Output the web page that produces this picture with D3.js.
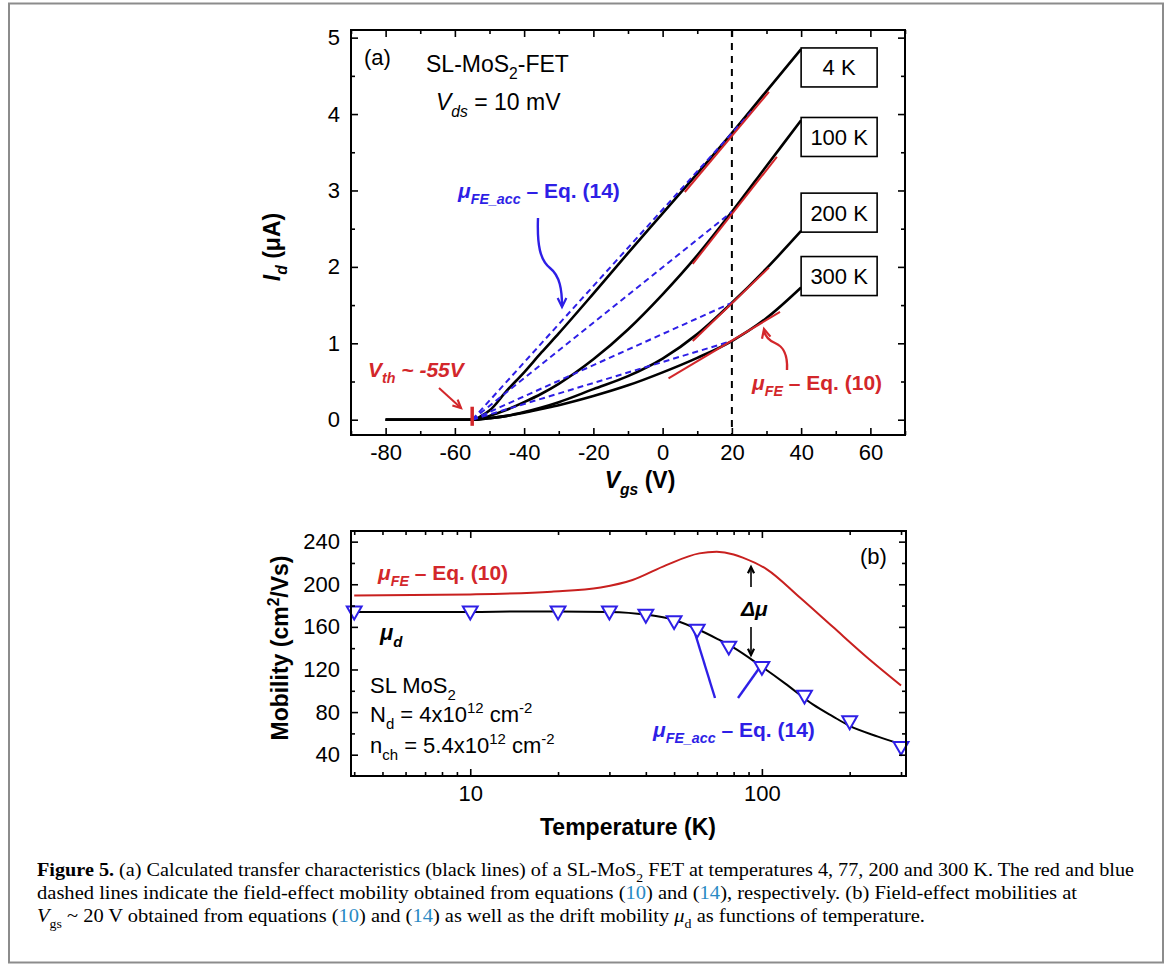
<!DOCTYPE html>
<html>
<head>
<meta charset="utf-8">
<script src="https://cdn.jsdelivr.net/npm/d3@7"></script>
<style>
body{margin:0;background:#fff;}
svg{display:block;font-family:"Liberation Sans",Arial,sans-serif;}
</style>
</head>
<body>
<svg width="1171" height="965"></svg>
<script>
// ---- panel (a) : transfer characteristics ----
var vgs    = [-80, -55, -52, -50, -45, -40, -35, -30, -20, -10, 0, 10, 20, 30, 40];
var id4K   = [0, 0, 0.06, 0.12, 0.38, 0.62, 0.88, 1.13, 1.65, 2.18, 2.70, 3.22, 3.75, 4.30, 4.85];
var id100K = [0, 0, 0.02, 0.05, 0.13, 0.23, 0.34, 0.47, 0.79, 1.18, 1.64, 2.15, 2.72, 3.32, 3.92];
var id200K = [0, 0, 0.01, 0.02, 0.05, 0.10, 0.16, 0.23, 0.40, 0.57, 0.80, 1.12, 1.53, 1.98, 2.47];
var id300K = [0, 0, 0.01, 0.02, 0.05, 0.09, 0.14, 0.19, 0.31, 0.45, 0.62, 0.81, 1.03, 1.33, 1.73];
var tempLabels = ["4 K", "100 K", "200 K", "300 K"];
var labelCenterI = [4.61, 3.70, 2.71, 1.88];
// red tangents (eq. 10): [v0, i0, v1, i1]
var tangents = [[6.4, 2.98, 30.7, 4.29], [8.7, 2.04, 33, 3.44], [8.7, 1.03, 30.7, 1.99], [1.7, 0.54, 33.9, 1.41]];
// blue dashed chords (eq. 14) from Vth
var vth = -55;
var chordEnds = [[26, 4.05], [20, 2.72], [20, 1.53], [20, 1.03]];
var vRef = 20;
var xTicksA = [-80, -60, -40, -20, 0, 20, 40, 60];
var yTicksA = [0, 1, 2, 3, 4, 5];

// ---- panel (b) : mobility vs temperature ----
var tFit  = [4, 6, 10, 15, 20, 30, 40, 50, 60, 70, 80, 100, 120, 150, 175, 200, 250, 300];
var muD   = [174, 174, 174, 174.5, 174.5, 174, 171.5, 166.5, 158, 149, 140.5, 122.5, 107, 87, 76, 67, 57, 50];
var tFE   = [4, 10, 19, 28, 36, 47, 61, 70, 80, 86, 104, 135, 175, 228, 300];
var muFE  = [189.5, 190.5, 193, 197, 204, 218, 229, 230.5, 228, 225, 214, 187.5, 160, 132, 105];
var tAcc  = [4, 10, 20, 30, 40, 50, 60, 77, 100, 140, 200, 300];
var muAcc = [175, 175, 175, 175, 172, 166, 158, 142, 123, 96, 72, 48];
var yTicksB = [40, 80, 120, 160, 200, 240];

var RED = "#d3272b", BLUE = "#2e1fe6";
var svg = d3.select("svg");

// outer border
svg.append("rect").attr("x", 9).attr("y", 3.5).attr("width", 1154).attr("height", 959)
   .attr("fill", "none").attr("stroke", "#8c8c8c").attr("stroke-width", 2);

function rich(sel, x, y, parts, size, anchor) {
  var t = sel.append("text").attr("x", x).attr("y", y).attr("font-size", size)
             .attr("text-anchor", anchor || "start");
  var shift = 0;
  parts.forEach(function(p) {
    var s = t.append("tspan").text(p.t);
    var target = p.sub ? size * 0.3 : (p.sup ? -size * 0.4 : 0);
    if (target !== shift) { s.attr("dy", target - shift); shift = target; }
    if (p.sub || p.sup) s.attr("font-size", size * 0.68);
    if (p.it) s.attr("font-style", "italic");
    if (p.b) s.attr("font-weight", "bold");
    if (p.fill) s.attr("fill", p.fill);
  });
  return t;
}

function head(g, x, y, ang, color, len) {
  // chevron arrow head, ang = direction of travel (radians)
  var a1 = ang + Math.PI - 0.45, a2 = ang + Math.PI + 0.45;
  g.append("path")
   .attr("d", "M" + (x + len * Math.cos(a1)) + "," + (y + len * Math.sin(a1)) + "L" + x + "," + y +
              "L" + (x + len * Math.cos(a2)) + "," + (y + len * Math.sin(a2)))
   .attr("fill", "none").attr("stroke", color).attr("stroke-width", 2.2);
}

function frameTicks(g, x, y, xMaj, xMin, yMaj, yMin, xFmt, yFmt) {
  var W = x.range()[1], H = y.range()[0];
  g.append("g").attr("transform", "translate(0," + H + ")")
   .call(d3.axisBottom(x).tickValues(xMin).tickSize(-4).tickFormat(""));
  g.append("g").attr("transform", "translate(0," + H + ")").attr("class", "xa")
   .call(d3.axisBottom(x).tickValues(xMaj).tickSize(-7).tickPadding(9).tickFormat(xFmt));
  g.append("g").attr("transform", "translate(0," + y.range()[1] + ")")
   .call(d3.axisTop(x).tickValues(xMin).tickSize(-4).tickFormat(""));
  g.append("g").attr("transform", "translate(0," + y.range()[1] + ")")
   .call(d3.axisTop(x).tickValues(xMaj).tickSize(-7).tickFormat(""));
  g.append("g").attr("transform", "translate(" + x.range()[0] + ",0)")
   .call(d3.axisLeft(y).tickValues(yMin).tickSize(-4).tickFormat(""));
  g.append("g").attr("transform", "translate(" + x.range()[0] + ",0)")
   .call(d3.axisLeft(y).tickValues(yMaj).tickSize(-7).tickPadding(11).tickFormat(yFmt));
  g.append("g").attr("transform", "translate(" + W + ",0)")
   .call(d3.axisRight(y).tickValues(yMin).tickSize(-4).tickFormat(""));
  g.append("g").attr("transform", "translate(" + W + ",0)")
   .call(d3.axisRight(y).tickValues(yMaj).tickSize(-7).tickFormat(""));
  g.selectAll(".domain").remove();
  g.selectAll(".tick line").attr("stroke", "#000").attr("stroke-width", 1.6);
  g.selectAll(".tick text").attr("font-size", 22).attr("fill", "#000")
   .attr("font-family", "Liberation Sans, Arial, sans-serif");
  g.append("rect").attr("x", x.range()[0]).attr("y", y.range()[1])
   .attr("width", W - x.range()[0]).attr("height", H - y.range()[1])
   .attr("fill", "none").attr("stroke", "#000").attr("stroke-width", 2);
}

// ================= panel (a) =================
var xA = d3.scaleLinear().domain([-90, 70]).range([351, 905]);
var yA = d3.scaleLinear().domain([-0.2, 5.1]).range([435, 30]);
var gA = svg.append("g");

var xMinA = d3.range(-90, 71, 10).filter(function(v) { return xTicksA.indexOf(v) < 0; });
var yMinA = d3.range(0.5, 5.01, 1);

// dashed reference line at Vgs = 20 V
gA.append("line").attr("x1", xA(vRef)).attr("x2", xA(vRef)).attr("y1", yA.range()[1]).attr("y2", yA.range()[0])
  .attr("stroke", "#000").attr("stroke-width", 2).attr("stroke-dasharray", "7,6");

var lineA = d3.line().x(function(d) { return xA(d[0]); }).y(function(d) { return yA(d[1]); })
              .curve(d3.curveMonotoneX);
[id4K, id100K, id200K, id300K].forEach(function(arr) {
  gA.append("path").datum(vgs.map(function(v, i) { return [v, arr[i]]; }))
    .attr("d", lineA).attr("fill", "none").attr("stroke", "#000").attr("stroke-width", 2.6);
});

chordEnds.forEach(function(e) {
  gA.append("line").attr("x1", xA(vth)).attr("y1", yA(0)).attr("x2", xA(e[0])).attr("y2", yA(e[1]))
    .attr("stroke", BLUE).attr("stroke-width", 2).attr("stroke-dasharray", "6,4");
});
tangents.forEach(function(t) {
  gA.append("line").attr("x1", xA(t[0])).attr("y1", yA(t[1])).attr("x2", xA(t[2])).attr("y2", yA(t[3]))
    .attr("stroke", RED).attr("stroke-width", 2);
});
// Vth marker
gA.append("line").attr("x1", xA(vth)).attr("x2", xA(vth)).attr("y1", yA(-0.08)).attr("y2", yA(0.17))
  .attr("stroke", RED).attr("stroke-width", 3.5);

// temperature boxes
tempLabels.forEach(function(lab, i) {
  var cy = yA(labelCenterI[i]);
  gA.append("rect").attr("x", xA(40)).attr("y", cy - 19.5).attr("width", 76).attr("height", 39)
    .attr("fill", "#fff").attr("stroke", "#000").attr("stroke-width", 1.6);
  gA.append("text").attr("x", xA(40) + 38).attr("y", cy + 8).attr("text-anchor", "middle")
    .attr("font-size", 22).text(lab);
});

frameTicks(gA, xA, yA, xTicksA, xMinA, yTicksA, yMinA, d3.format("d"), d3.format("d"));
gA.selectAll(".xa .tick text").text(function(d) { return d < 0 ? "-" + (-d) : d; });

// annotations (a)
gA.append("text").attr("x", 364).attr("y", 65).attr("font-size", 22).text("(a)");
rich(gA, 426, 72, [{t: "SL-MoS"}, {t: "2", sub: 1}, {t: "-FET"}], 23);
rich(gA, 436, 110, [{t: "V", it: 1}, {t: "ds", it: 1, sub: 1}, {t: " = 10 mV"}], 23);
rich(gA, 368, 377, [{t: "V", it: 1}, {t: "th", it: 1, sub: 1}, {t: " ~ -55V", it: 1}], 21)
  .attr("font-weight", "bold").attr("fill", RED);
gA.append("line").attr("x1", 439).attr("y1", 388).attr("x2", 461).attr("y2", 408)
  .attr("stroke", RED).attr("stroke-width", 2);
head(gA, 461, 408, Math.atan2(20, 22), RED, 9);

rich(gA, 458, 198, [{t: "\u03bc", it: 1}, {t: "FE_acc", it: 1, sub: 1}, {t: " \u2013 Eq. (14)"}], 21)
  .attr("font-weight", "bold").attr("fill", BLUE);
gA.append("path").attr("d", "M538,218 C537,245 540,260 550,268 C560,276 562,290 562,306")
  .attr("fill", "none").attr("stroke", BLUE).attr("stroke-width", 2.4);
head(gA, 562, 307, Math.PI / 2, BLUE, 10);

rich(gA, 752, 390, [{t: "\u03bc", it: 1}, {t: "FE", it: 1, sub: 1}, {t: " \u2013 Eq. (10)"}], 21)
  .attr("font-weight", "bold").attr("fill", RED);
gA.append("path").attr("d", "M787,370 C788,352 782,346 775,343 C768,340 765,335 764,331")
  .attr("fill", "none").attr("stroke", RED).attr("stroke-width", 2.4);
head(gA, 764, 329, -Math.PI / 2 - 0.25, RED, 10);

// axis titles (a)
rich(gA, 640, 488, [{t: "V", it: 1}, {t: "gs", it: 1, sub: 1}, {t: " (V)"}], 23, "middle").attr("font-weight", "bold");
rich(gA, 0, 0, [{t: "I", it: 1}, {t: "d", it: 1, sub: 1}, {t: " (\u03bcA)"}], 23, "middle")
  .attr("font-weight", "bold").attr("transform", "translate(280,247) rotate(-90)");

// ================= panel (b) =================
var xB = d3.scaleLog().domain([3.9, 312]).range([351, 906]);
var yB = d3.scaleLinear().domain([20, 250]).range([776, 531]);
var gB = svg.append("g");

var xMinB = [4, 5, 6, 7, 8, 9, 20, 30, 40, 50, 60, 70, 80, 90, 200, 300];
var yMinB = [60, 100, 140, 180, 220];

var lineB = d3.line().x(function(d) { return xB(d[0]); }).y(function(d) { return yB(d[1]); })
              .curve(d3.curveMonotoneX);
gB.append("path").datum(tFE.map(function(t, i) { return [t, muFE[i]]; }))
  .attr("d", lineB).attr("fill", "none").attr("stroke", "#c8201f").attr("stroke-width", 2);
gB.append("path").datum(tFit.map(function(t, i) { return [t, muD[i]]; }))
  .attr("d", lineB).attr("fill", "none").attr("stroke", "#000").attr("stroke-width", 2);

// pointer lines for the eq.(14) label
gB.append("line").attr("x1", 715).attr("y1", 698).attr("x2", 694).attr("y2", 630)
  .attr("stroke", BLUE).attr("stroke-width", 2.4);
gB.append("line").attr("x1", 738).attr("y1", 698).attr("x2", 760).attr("y2", 667)
  .attr("stroke", BLUE).attr("stroke-width", 2.4);

var tri = d3.symbol().type(d3.symbolTriangle).size(95);
gB.selectAll(".tri").data(tAcc.map(function(t, i) { return [t, muAcc[i]]; })).enter()
  .append("path").attr("class", "tri").attr("d", tri)
  .attr("transform", function(d) { return "translate(" + xB(d[0]) + "," + yB(d[1]) + ") rotate(180)"; })
  .attr("fill", "#fff").attr("stroke", BLUE).attr("stroke-width", 2);

frameTicks(gB, xB, yB, [10, 100], xMinB, yTicksB, yMinB, d3.format("d"), d3.format("d"));

// annotations (b)
gB.append("text").attr("x", 860).attr("y", 564).attr("font-size", 22).text("(b)");
rich(gB, 378, 580, [{t: "\u03bc", it: 1}, {t: "FE", it: 1, sub: 1}, {t: " \u2013 Eq. (10)"}], 21)
  .attr("font-weight", "bold").attr("fill", RED);
rich(gB, 380, 640, [{t: "\u03bc", it: 1}, {t: "d", it: 1, sub: 1}], 22).attr("font-weight", "bold");
rich(gB, 370, 693, [{t: "SL MoS"}, {t: "2", sub: 1}], 22);
rich(gB, 370, 722, [{t: "N"}, {t: "d", sub: 1}, {t: " = 4x10"}, {t: "12", sup: 1}, {t: " cm"}, {t: "-2", sup: 1}], 22);
rich(gB, 370, 753, [{t: "n"}, {t: "ch", sub: 1}, {t: " = 5.4x10"}, {t: "12", sup: 1}, {t: " cm"}, {t: "-2", sup: 1}], 22);
rich(gB, 741, 616, [{t: "\u0394\u03bc", it: 1}], 21).attr("font-weight", "bold");
gB.append("line").attr("x1", 751).attr("x2", 751).attr("y1", 587).attr("y2", 568).attr("stroke", "#000").attr("stroke-width", 1.6);
head(gB, 751, 567, -Math.PI / 2, "#000", 7);
gB.append("line").attr("x1", 751).attr("x2", 751).attr("y1", 627).attr("y2", 654).attr("stroke", "#000").attr("stroke-width", 1.6);
head(gB, 751, 655, Math.PI / 2, "#000", 7);
rich(gB, 653, 737, [{t: "\u03bc", it: 1}, {t: "FE_acc", it: 1, sub: 1}, {t: " \u2013 Eq. (14)"}], 21)
  .attr("font-weight", "bold").attr("fill", BLUE);

gB.append("text").attr("x", 628).attr("y", 835).attr("text-anchor", "middle")
  .attr("font-size", 23).attr("font-weight", "bold").text("Temperature (K)");
rich(gB, 0, 0, [{t: "Mobility (cm"}, {t: "2", sup: 1}, {t: "/Vs)"}], 23, "middle")
  .attr("font-weight", "bold").attr("transform", "translate(288,648) rotate(-90)");

// ================= caption =================
var LINK = "#2a8ac4";
var cap = svg.append("g").style("font-family", "'Liberation Serif', 'Times New Roman', serif");
function capLine(y, parts, right) {
  var t = rich(cap, 37, y, parts, 18.5);
  t.attr("textLength", right - 37).attr("lengthAdjust", "spacingAndGlyphs");
}
capLine(876, [{t: "Figure 5.", b: 1}, {t: " (a) Calculated transfer characteristics (black lines) of a SL-MoS"}, {t: "2", sub: 1},
  {t: " FET at temperatures 4, 77, 200 and 300 K. The red and blue"}], 1134);
capLine(899, [{t: "dashed lines indicate the field-effect mobility obtained from equations ("}, {t: "10", fill: LINK},
  {t: ") and ("}, {t: "14", fill: LINK}, {t: "), respectively. (b) Field-effect mobilities at"}], 1077);
capLine(922, [{t: "V", it: 1}, {t: "gs", sub: 1}, {t: " ~ 20 V obtained from equations ("}, {t: "10", fill: LINK},
  {t: ") and ("}, {t: "14", fill: LINK}, {t: ") as well as the drift mobility "}, {t: "\u03bc", it: 1}, {t: "d", sub: 1},
  {t: " as functions of temperature."}], 925);
</script>
</body>
</html>
